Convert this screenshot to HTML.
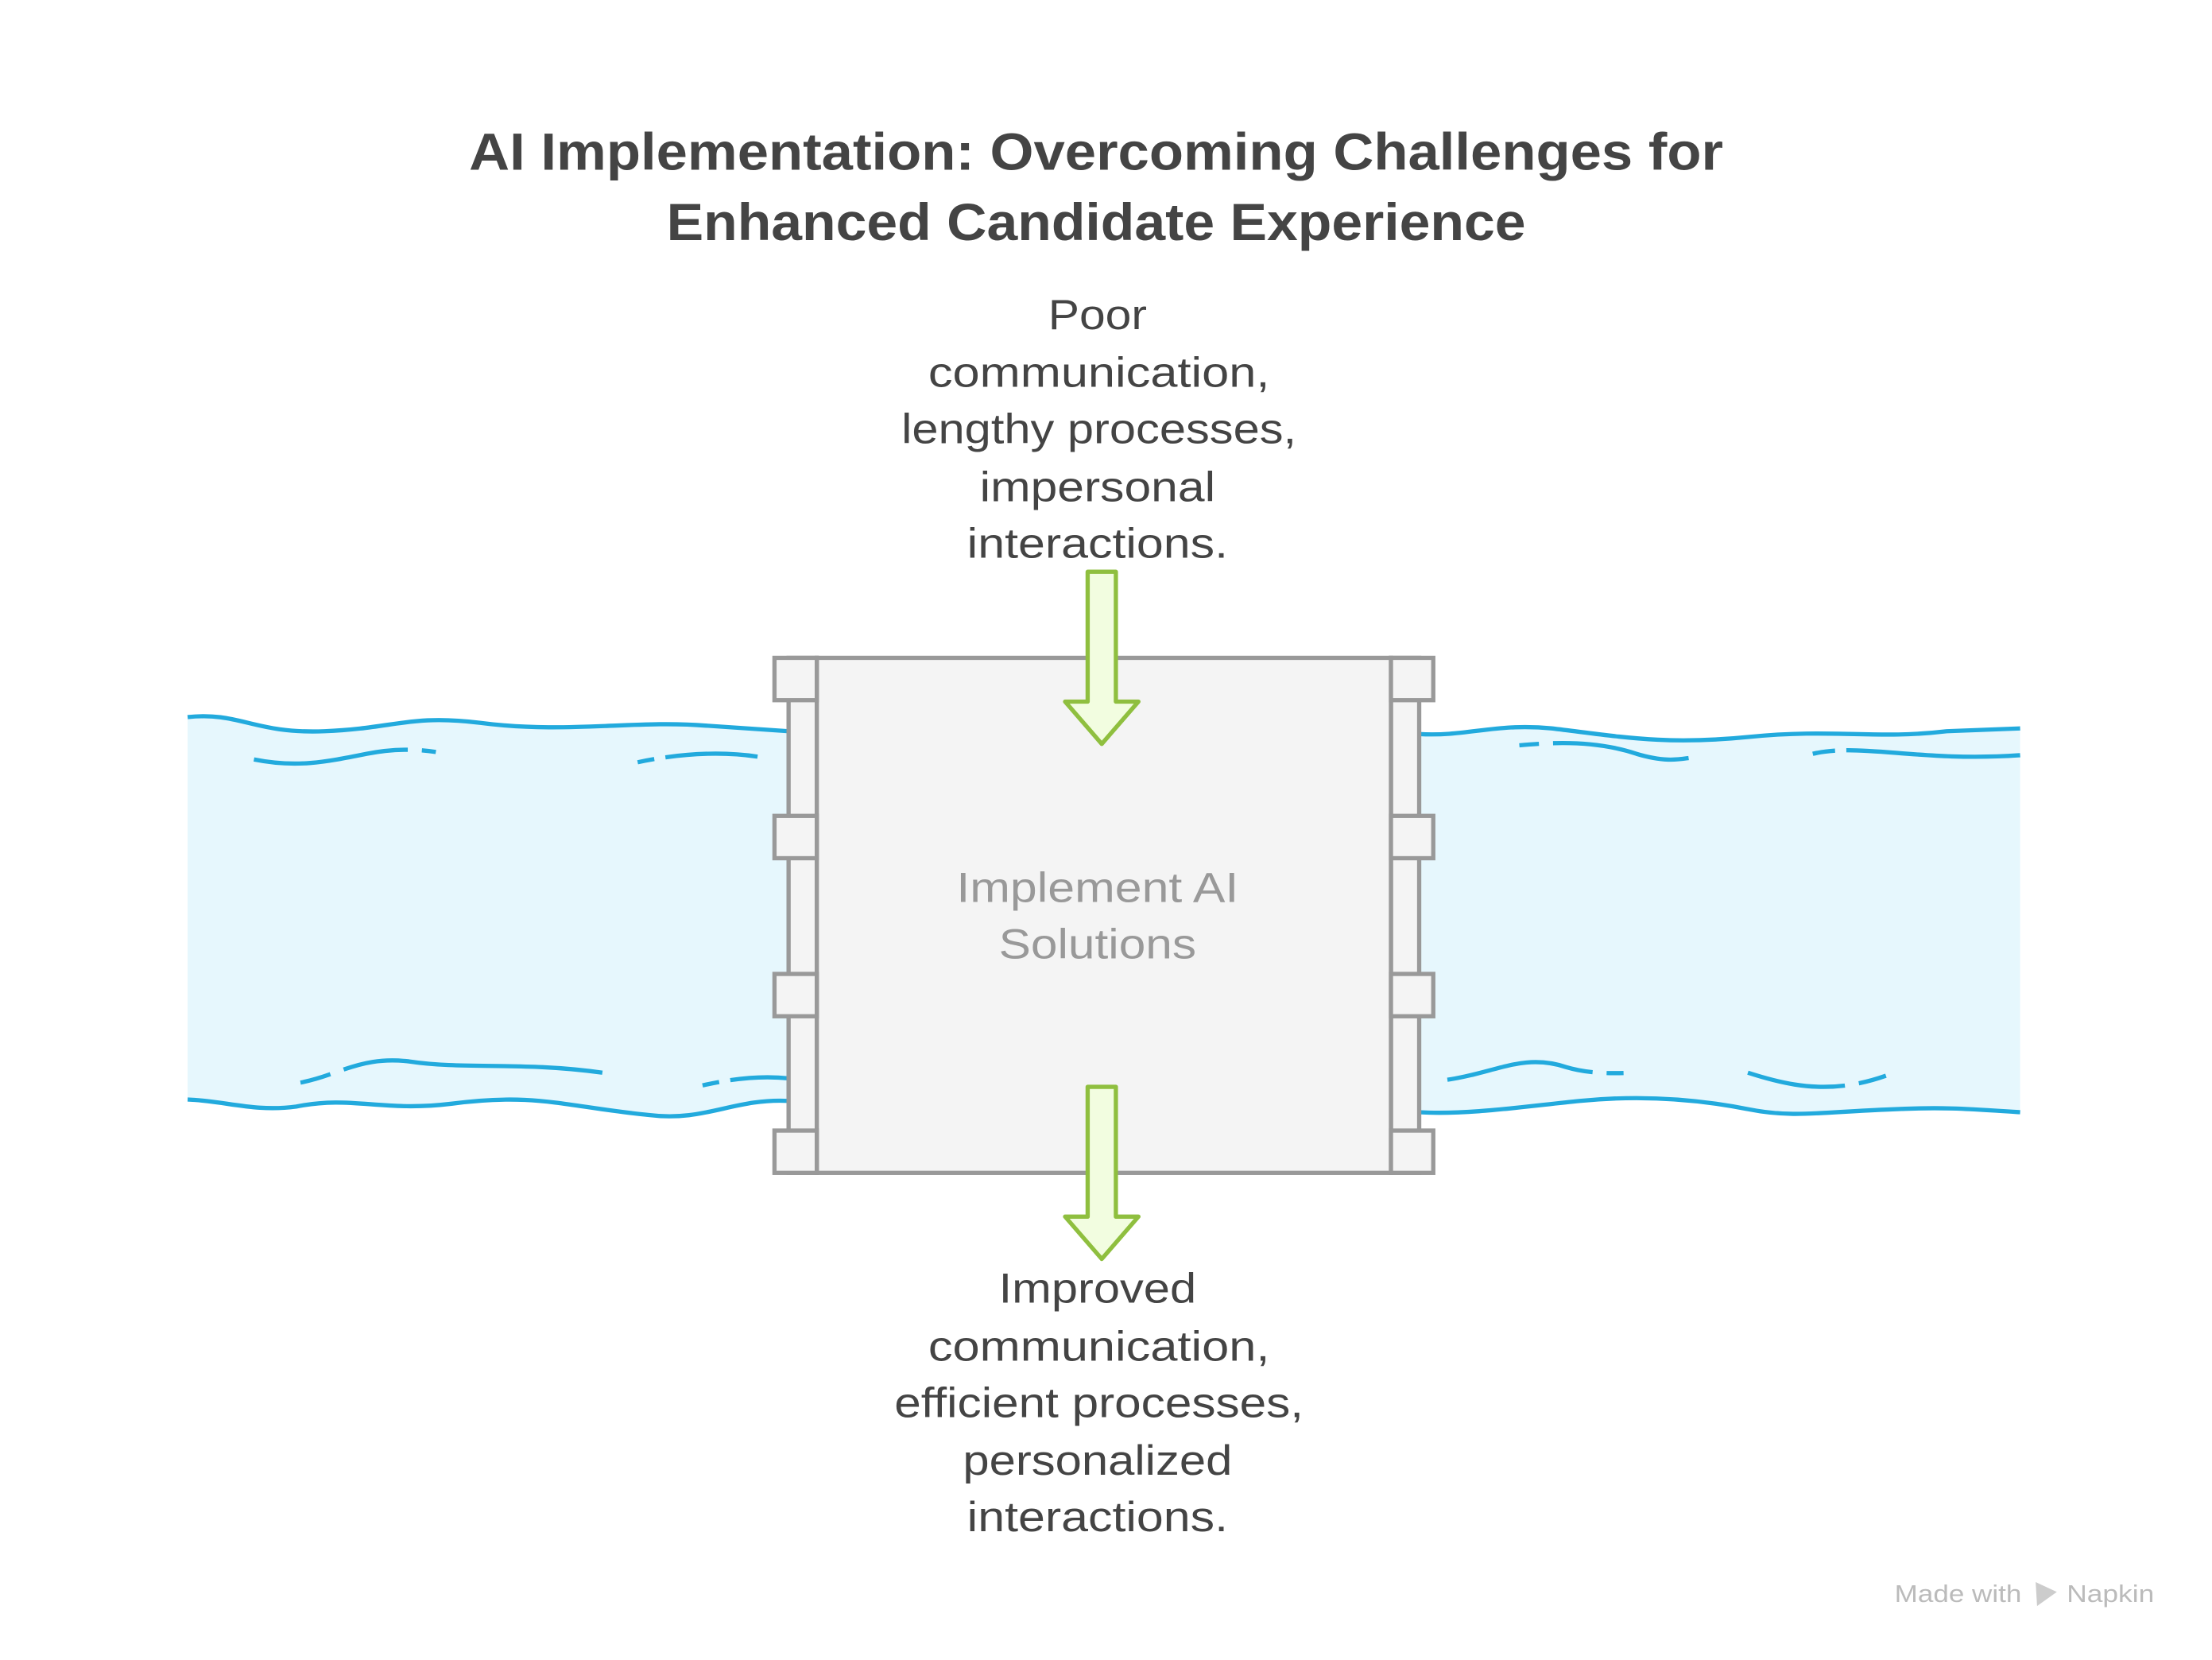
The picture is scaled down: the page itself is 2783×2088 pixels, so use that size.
<!DOCTYPE html>
<html><head><meta charset="utf-8"><style>
html,body{margin:0;padding:0;background:#fff;}
svg{display:block;}
</style></head><body>
<svg width="2783" height="2088" viewBox="0 0 1568 1176" xmlns="http://www.w3.org/2000/svg" font-family="Liberation Sans, sans-serif">
<rect width="1568" height="1176" fill="#fff"/>
<text x="777" y="120" text-anchor="middle" font-size="37" font-weight="bold" fill="#444" textLength="889" lengthAdjust="spacingAndGlyphs">AI Implementation: Overcoming Challenges for</text>
<text x="777" y="170" text-anchor="middle" font-size="37" font-weight="bold" fill="#444" textLength="609" lengthAdjust="spacingAndGlyphs">Enhanced Candidate Experience</text>
<g font-size="30" fill="#444" text-anchor="middle" lengthAdjust="spacingAndGlyphs">
<text x="778" y="233" textLength="70" lengthAdjust="spacingAndGlyphs">Poor</text>
<text x="779" y="274" textLength="242" lengthAdjust="spacingAndGlyphs">communication,</text>
<text x="779" y="314" textLength="280" lengthAdjust="spacingAndGlyphs">lengthy processes,</text>
<text x="778" y="355" textLength="167" lengthAdjust="spacingAndGlyphs">impersonal</text>
<text x="778" y="395" textLength="185" lengthAdjust="spacingAndGlyphs">interactions.</text>
<text x="778" y="923" textLength="140" lengthAdjust="spacingAndGlyphs">Improved</text>
<text x="779" y="964" textLength="242" lengthAdjust="spacingAndGlyphs">communication,</text>
<text x="779" y="1004" textLength="290" lengthAdjust="spacingAndGlyphs">efficient processes,</text>
<text x="778" y="1045" textLength="191" lengthAdjust="spacingAndGlyphs">personalized</text>
<text x="778" y="1085" textLength="185" lengthAdjust="spacingAndGlyphs">interactions.</text>
</g>
<!-- rivers -->
<path d="M133 508 C170 504 180 520 230 518 C280 516 290 506 340 512 C400 520 450 510 500 514 L559 518 L559 780 C520 778 500 795 460 790 C400 784 380 774 320 782 C270 788 250 776 210 784 C180 788 160 780 133 779 Z" fill="#e6f7fd"/>
<path d="M133 508 C170 504 180 520 230 518 C280 516 290 506 340 512 C400 520 450 510 500 514 L559 518" fill="none" stroke="#22aadd" stroke-width="3"/>
<path d="M133 779 C160 780 180 788 210 784 C250 776 270 788 320 782 C380 774 400 784 460 790 C500 795 520 778 559 780" fill="none" stroke="#22aadd" stroke-width="3"/>
<path d="M180 538 C210 544 230 540 260 534 C280 530 300 530 320 535" fill="none" stroke="#22aadd" stroke-width="3" stroke-dasharray="110 10 10 500"/>
<path d="M452 540 C480 534 510 532 537 536" fill="none" stroke="#22aadd" stroke-width="3" stroke-dasharray="12 8 200"/>
<path d="M213 767 C240 762 255 748 290 752 C330 758 370 752 427 760" fill="none" stroke="#22aadd" stroke-width="3" stroke-dasharray="22 10 300"/>
<path d="M498 769 C520 764 540 762 559 764" fill="none" stroke="#22aadd" stroke-width="3" stroke-dasharray="12 8 200"/>
<path d="M1006 520 C1040 522 1060 512 1100 516 C1150 522 1180 528 1240 522 C1300 516 1330 524 1380 518 L1432 516 L1432 788 C1400 786 1380 784 1340 786 C1290 788 1270 792 1240 786 C1200 778 1160 776 1120 780 C1080 784 1040 790 1006 788 Z" fill="#e6f7fd"/>
<path d="M1006 520 C1040 522 1060 512 1100 516 C1150 522 1180 528 1240 522 C1300 516 1330 524 1380 518 L1432 516" fill="none" stroke="#22aadd" stroke-width="3"/>
<path d="M1006 788 C1040 790 1080 784 1120 780 C1160 776 1200 778 1240 786 C1270 792 1290 788 1340 786 C1380 784 1400 786 1432 788" fill="none" stroke="#22aadd" stroke-width="3"/>
<path d="M1077 528 C1100 526 1130 524 1160 534 C1180 540 1190 538 1197 537" fill="none" stroke="#22aadd" stroke-width="3" stroke-dasharray="14 10 300"/>
<path d="M1285 534 C1320 526 1360 540 1432 535" fill="none" stroke="#22aadd" stroke-width="3" stroke-dasharray="16 8 300"/>
<path d="M1026 765 C1060 760 1080 746 1110 756 C1130 762 1150 760 1160 760" fill="none" stroke="#22aadd" stroke-width="3" stroke-dasharray="105 10 12 300"/>
<path d="M1239 760 C1270 770 1300 776 1340 761" fill="none" stroke="#22aadd" stroke-width="3" stroke-dasharray="70 10 20 300"/>
<!-- box -->
<g fill="#f4f4f4" stroke="#999" stroke-width="3">
<rect x="559" y="466" width="20" height="365"/>
<rect x="986" y="466" width="20" height="365"/>
<rect x="579" y="466" width="407" height="365"/>
<rect x="549" y="466" width="30" height="30"/>
<rect x="549" y="578" width="30" height="30"/>
<rect x="549" y="690" width="30" height="30"/>
<rect x="549" y="801" width="30" height="30"/>
<rect x="986" y="466" width="30" height="30"/>
<rect x="986" y="578" width="30" height="30"/>
<rect x="986" y="690" width="30" height="30"/>
<rect x="986" y="801" width="30" height="30"/>
</g>
<text x="778" y="639" text-anchor="middle" font-size="30" fill="#999" textLength="200" lengthAdjust="spacingAndGlyphs">Implement AI</text>
<text x="778" y="679" text-anchor="middle" font-size="30" fill="#999" textLength="140" lengthAdjust="spacingAndGlyphs">Solutions</text>
<!-- arrows -->
<path d="M771 405 L791 405 L791 497 L807 497 L781 527 L755 497 L771 497 Z" fill="#f2fde0" stroke="#8fbf3f" stroke-width="3" stroke-linejoin="round"/>
<path d="M771 770 L791 770 L791 862 L807 862 L781 892 L755 862 L771 862 Z" fill="#f2fde0" stroke="#8fbf3f" stroke-width="3" stroke-linejoin="round"/>
<text x="1343" y="1135" font-size="17" fill="#bbb" textLength="90" lengthAdjust="spacingAndGlyphs">Made with</text>
<path d="M1443 1121 L1458 1128 L1444 1138 Z" fill="#ccc"/>
<text x="1465" y="1135" font-size="17" fill="#bbb" textLength="62" lengthAdjust="spacingAndGlyphs">Napkin</text>
</svg>
</body></html>
